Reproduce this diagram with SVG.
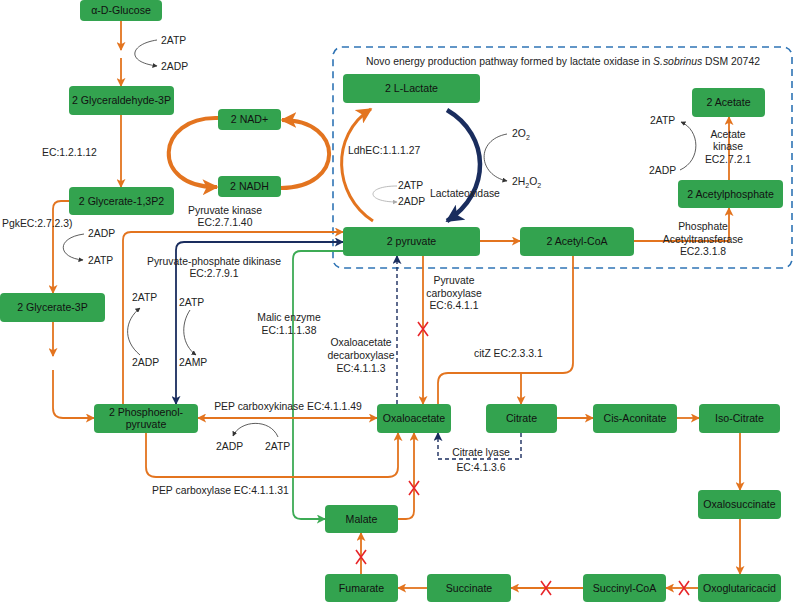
<svg xmlns="http://www.w3.org/2000/svg" width="794" height="603" viewBox="0 0 794 603">
<style>
.n{fill:#33a34f}
.nt{font-family:"Liberation Sans",Arial,sans-serif;font-size:10.6px;fill:#111;text-anchor:middle}
.t{font-family:"Liberation Sans",Arial,sans-serif;font-size:10.4px;fill:#222}
.m{text-anchor:middle}
.o{fill:none;stroke:#e3741f;stroke-width:1.8}
.ob{fill:none;stroke:#e3741f;stroke-width:4}
.nv{fill:none;stroke:#1a2d5e;stroke-width:1.8}
.nd{fill:none;stroke:#1a2d5e;stroke-width:1.4;stroke-dasharray:4,3}
.g{fill:none;stroke:#3dab55;stroke-width:1.8}
.k{fill:none;stroke:#333;stroke-width:0.8}
.x{stroke:#e8262a;stroke-width:1.6}
</style>
<defs>
<marker id="ao" viewBox="0 0 10 10" refX="9" refY="5" markerWidth="9" markerHeight="9" markerUnits="userSpaceOnUse" orient="auto-start-reverse"><path d="M0,0 L10,5 L0,10 L2.5,5 z" fill="#e3741f"/></marker>
<marker id="aob" viewBox="0 0 10 10" refX="9" refY="5" markerWidth="16" markerHeight="16" markerUnits="userSpaceOnUse" orient="auto-start-reverse"><path d="M0,0 L10,5 L0,10 L2.5,5 z" fill="#e3741f"/></marker>
<marker id="an" viewBox="0 0 10 10" refX="9" refY="5" markerWidth="9" markerHeight="9" markerUnits="userSpaceOnUse" orient="auto-start-reverse"><path d="M0,0 L10,5 L0,10 L2.5,5 z" fill="#1a2d5e"/></marker>
<marker id="anb" viewBox="0 0 10 10" refX="9" refY="5" markerWidth="18" markerHeight="18" markerUnits="userSpaceOnUse" orient="auto"><path d="M0,0 L10,5 L0,10 L2.5,5 z" fill="#1a2d5e"/></marker>
<marker id="ag" viewBox="0 0 10 10" refX="9" refY="5" markerWidth="9" markerHeight="9" markerUnits="userSpaceOnUse" orient="auto"><path d="M0,0 L10,5 L0,10 L2.5,5 z" fill="#3dab55"/></marker>
<marker id="ak" viewBox="0 0 10 10" refX="9" refY="5" markerWidth="5" markerHeight="5" markerUnits="userSpaceOnUse" orient="auto"><path d="M0,0 L10,5 L0,10 z" fill="#333"/></marker>
<marker id="akg" viewBox="0 0 10 10" refX="9" refY="5" markerWidth="5" markerHeight="5" markerUnits="userSpaceOnUse" orient="auto"><path d="M0,0 L10,5 L0,10 z" fill="#aaa"/></marker>
</defs>

<rect x="333" y="47" width="459" height="221" rx="9" fill="none" stroke="#2f74b5" stroke-width="1.6" stroke-dasharray="7,5"/>
<text class="t m" x="563" y="65">Novo energy production pathway formed by lactate oxidase in <tspan font-style="italic">S.sobrinus</tspan> DSM 20742</text>

<g id="connectors">
<path class="o" d="M121,21 V50" marker-end="url(#ao)"/>
<path class="o" d="M121,58 V86" marker-end="url(#ao)"/>
<path class="o" d="M121,115 V187" marker-end="url(#ao)"/>
<path class="o" d="M69,201 H61 Q53,201 53,209 V293" marker-end="url(#ao)"/>
<path class="o" d="M53,322 V356" marker-end="url(#ao)"/>
<path class="o" d="M53,370 V408 Q53,418 63,418 H94" marker-end="url(#ao)"/>
<path class="ob" d="M218,118 C155,116 150,188 217,187" marker-end="url(#aob)"/>
<path class="ob" d="M281,188 C345,188 345,120 282,120" marker-end="url(#aob)"/>
<path class="o" d="M123,404 V240 Q123,232 131,232 H343" marker-end="url(#ao)"/>
<path class="nv" d="M343,242 H184 Q176,242 176,250 V404" marker-start="url(#an)" marker-end="url(#an)"/>
<path class="g" d="M343,251 H301 Q293,251 293,259 V511 Q293,519 301,519 H325" marker-end="url(#ag)"/>
<path class="o" d="M480,241 H520" marker-end="url(#ao)"/>
<path class="o" d="M634,241 H729 V208" marker-end="url(#ao)"/>
<path class="o" d="M729,180 V117" marker-end="url(#ao)"/>
<path class="ob" style="stroke-width:3" d="M373,221 C333,195 330,135 371,109" marker-end="url(#aob)"/>
<path class="nv" style="stroke-width:4.5" d="M447,110 C490,135 492,192 447,221" marker-end="url(#anb)"/>
<path class="o" d="M423,256 V404" marker-end="url(#ao)"/>
<path class="nd" d="M397,404 V256" marker-end="url(#an)"/>
<path class="o" d="M573,256 V363 Q573,373 563,373 H448 Q438,373 438,383 V404"/>
<path class="o" d="M521,373 V404" marker-end="url(#ao)"/>
<path class="nd" d="M521,433 V459 H438 V433" marker-end="url(#an)"/>
<path class="o" d="M557,418 H593" marker-end="url(#ao)"/>
<path class="o" d="M677,418 H699" marker-end="url(#ao)"/>
<path class="o" d="M740,433 V490" marker-end="url(#ao)"/>
<path class="o" d="M740,519 V574" marker-end="url(#ao)"/>
<path class="o" d="M698,588 H666" marker-end="url(#ao)"/>
<path class="o" d="M583,588 H511" marker-end="url(#ao)"/>
<path class="o" d="M427,588 H398" marker-end="url(#ao)"/>
<path class="o" d="M361,574 V533" marker-end="url(#ao)"/>
<path class="o" d="M398,519 H406 Q414,519 414,511 V433" marker-end="url(#ao)"/>
<path class="o" d="M198,418 H377" marker-start="url(#ao)" marker-end="url(#ao)"/>
<path class="o" d="M146,433 V467 Q146,477 156,477 H388 Q398,477 398,467 V433" marker-end="url(#ao)"/>
<path class="k" d="M157,40 C130,44 125,62 157,66" marker-end="url(#ak)"/>
<path class="k" d="M84,234 C55,238 58,258 83,260" marker-end="url(#ak)"/>
<path class="k" d="M140,355 C122,340 125,320 140,308" marker-end="url(#ak)"/>
<path class="k" d="M190,310 C180,325 182,345 196,355" marker-end="url(#ak)"/>
<path class="k" style="stroke:#aaa" d="M397,186 C365,186 365,202 397,202" marker-end="url(#akg)"/>
<path class="k" d="M507,134 C475,140 478,175 507,181" marker-end="url(#ak)"/>
<path class="k" d="M680,170 C702,160 700,130 681,122" marker-end="url(#ak)"/>
<path class="k" d="M278,437 C270,418 240,420 233,436" marker-end="url(#ak)"/>
<g id="blocks">
<path class="x" d="M418,322 L428,336 M428,322 L418,336"/>
<path class="x" d="M409,481 L419,495 M419,481 L409,495"/>
<path class="x" d="M356,550 L366,564 M366,550 L356,564"/>
<path class="x" d="M541,581 L551,595 M551,581 L541,595"/>
<path class="x" d="M679,581 L689,595 M689,581 L679,595"/>
</g>
</g>

<g id="glucose"><rect class="n" x="80" y="0" width="82" height="21" rx="4"/><text class="nt" x="121" y="14">α-D-Glucose</text></g>
<g id="g3p"><rect class="n" x="69" y="86" width="105" height="29" rx="4"/><text class="nt" x="121.5" y="104">2 Glyceraldehyde-3P</text></g>
<g id="nad"><rect class="n" x="218" y="109" width="63" height="21" rx="4"/><text class="nt" x="249.5" y="123">2 NAD+</text></g>
<g id="nadh"><rect class="n" x="218" y="176" width="63" height="21" rx="4"/><text class="nt" x="249.5" y="190">2 NADH</text></g>
<g id="g13p2"><rect class="n" x="69" y="187" width="105" height="28" rx="4"/><text class="nt" x="121.5" y="205">2 Glycerate-1,3P2</text></g>
<g id="gly3p"><rect class="n" x="0" y="293" width="105" height="29" rx="4"/><text class="nt" x="52.5" y="311">2 Glycerate-3P</text></g>
<g id="pep"><rect class="n" x="94" y="404" width="104" height="29" rx="4"/><text class="nt" x="146" y="416">2 Phosphoenol-</text><text class="nt" x="146" y="428">pyruvate</text></g>
<g id="oaa"><rect class="n" x="377" y="404" width="74" height="29" rx="4"/><text class="nt" x="414" y="422">Oxaloacetate</text></g>
<g id="malate"><rect class="n" x="325" y="505" width="73" height="28" rx="4"/><text class="nt" x="361.5" y="523">Malate</text></g>
<g id="fumarate"><rect class="n" x="325" y="574" width="73" height="28" rx="4"/><text class="nt" x="361.5" y="592">Fumarate</text></g>
<g id="succinate"><rect class="n" x="427" y="574" width="84" height="28" rx="4"/><text class="nt" x="469" y="592">Succinate</text></g>
<g id="succoa"><rect class="n" x="583" y="574" width="83" height="28" rx="4"/><text class="nt" x="624.5" y="592">Succinyl-CoA</text></g>
<g id="oxoglut"><rect class="n" x="698" y="574" width="83" height="28" rx="4"/><text class="nt" x="739.5" y="592">Oxoglutaricacid</text></g>
<g id="oxalosucc"><rect class="n" x="698" y="490" width="83" height="29" rx="4"/><text class="nt" x="739.5" y="508">Oxalosuccinate</text></g>
<g id="citrate"><rect class="n" x="486" y="404" width="71" height="29" rx="4"/><text class="nt" x="521.5" y="422">Citrate</text></g>
<g id="cisacon"><rect class="n" x="593" y="404" width="84" height="29" rx="4"/><text class="nt" x="635" y="422">Cis-Aconitate</text></g>
<g id="isocit"><rect class="n" x="699" y="404" width="81" height="29" rx="4"/><text class="nt" x="739.5" y="422">Iso-Citrate</text></g>
<g id="lactate"><rect class="n" x="343" y="74" width="137" height="29" rx="4"/><text class="nt" x="411.5" y="92">2 L-Lactate</text></g>
<g id="pyruvate"><rect class="n" x="343" y="227" width="137" height="29" rx="4"/><text class="nt" x="411.5" y="245">2 pyruvate</text></g>
<g id="acetylcoa"><rect class="n" x="520" y="227" width="114" height="29" rx="4"/><text class="nt" x="577" y="245">2 Acetyl-CoA</text></g>
<g id="acetate"><rect class="n" x="692" y="88" width="73" height="29" rx="4"/><text class="nt" x="728.5" y="106">2 Acetate</text></g>
<g id="acetylp"><rect class="n" x="678" y="180" width="105" height="28" rx="4"/><text class="nt" x="730.5" y="198">2 Acetylphosphate</text></g>

<g id="labels">
<text class="t" x="161" y="44">2ATP</text>
<text class="t" x="161" y="70">2ADP</text>
<text class="t" x="42" y="156">EC:1.2.1.12</text>
<text class="t" x="2" y="227">PgkEC:2.7.2.3)</text>
<text class="t" x="88" y="237">2ADP</text>
<text class="t" x="88" y="264">2ATP</text>
<text class="t m" x="225" y="214">Pyruvate kinase</text>
<text class="t m" x="225" y="226">EC:2.7.1.40</text>
<text class="t m" x="214" y="265">Pyruvate-phosphate dikinase</text>
<text class="t m" x="214" y="277">EC:2.7.9.1</text>
<text class="t" x="132" y="301">2ATP</text>
<text class="t" x="132" y="366">2ADP</text>
<text class="t" x="179" y="306">2ATP</text>
<text class="t" x="179" y="366">2AMP</text>
<text class="t m" x="289" y="321">Malic enzyme</text>
<text class="t m" x="289" y="334">EC:1.1.1.38</text>
<text class="t m" x="361" y="346">Oxaloacetate</text>
<text class="t m" x="361" y="359">decarboxylase</text>
<text class="t m" x="361" y="372">EC:4.1.1.3</text>
<text class="t m" x="454" y="284">Pyruvate</text>
<text class="t m" x="454" y="297">carboxylase</text>
<text class="t m" x="454" y="309">EC:6.4.1.1</text>
<text class="t" x="474" y="357">citZ EC:2.3.3.1</text>
<text class="t m" x="288" y="410">PEP carboxykinase EC:4.1.1.49</text>
<text class="t" x="216" y="450">2ADP</text>
<text class="t" x="265" y="450">2ATP</text>
<text class="t" x="152" y="494">PEP carboxylase EC:4.1.1.31</text>
<text class="t m" x="481" y="456">Citrate lyase</text>
<text class="t m" x="481" y="470.5">EC:4.1.3.6</text>
<text class="t" x="348" y="154">LdhEC:1.1.1.27</text>
<text class="t" x="430" y="197">Lactateoxidase</text>
<text class="t" x="398" y="189">2ATP</text>
<text class="t" x="398" y="205">2ADP</text>
<text class="t" x="512" y="137">2O<tspan font-size="7" dy="3">2</tspan></text>
<text class="t" x="512" y="185">2H<tspan font-size="7" dy="3">2</tspan><tspan dy="-3">O</tspan><tspan font-size="7" dy="3">2</tspan></text>
<text class="t m" x="703" y="230">Phosphate</text>
<text class="t m" x="703" y="243">Acetyltransferase</text>
<text class="t m" x="703" y="255">EC2.3.1.8</text>
<text class="t m" x="728" y="138">Acetate</text>
<text class="t m" x="728" y="150">kinase</text>
<text class="t m" x="728" y="163">EC2.7.2.1</text>
<text class="t" x="650" y="124">2ATP</text>
<text class="t" x="649" y="174">2ADP</text>
</g>
</svg>
